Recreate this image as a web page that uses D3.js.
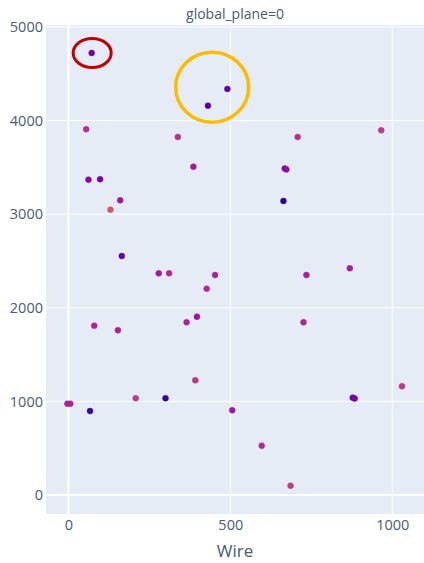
<!DOCTYPE html>
<html>
<head>
<meta charset="utf-8">
<script src="https://cdn.jsdelivr.net/npm/d3@7"></script>
<style>
  body { margin: 0; background: #fff; }
  text { font-family: "Open Sans", verdana, arial, sans-serif; }
</style>
</head>
<body>
<div id="chart"></div>
<script>
// hits: wire, time and a colour value (plasma scale)
const wire = [72, 431, 491, 55, 338, 386, 62, 98, 708, 966, 668, 673, 664, 160, 130, 165,
  279, 311, 427, 80, 153, 365, 397, 453, 735, 869, 726, 392, -3, 6, 67, 208, 300, 506,
  597, 686, 878, 884, 1030];
const time = [4722, 4159, 4338, 3907, 3825, 3507, 3369, 3373, 3825, 3896, 3488, 3478, 3141,
  3148, 3048, 2553, 2368, 2368, 2204, 1809, 1760, 1845, 1905, 2350, 2350, 2422, 1845, 1225,
  975, 975, 897, 1033, 1033, 905, 527, 99, 1040, 1030, 1161];
const charge = [0.22, 0.15, 0.18, 0.42, 0.42, 0.35, 0.27, 0.24, 0.42, 0.45, 0.28, 0.3, 0.05,
  0.35, 0.55, 0.2, 0.35, 0.4, 0.4, 0.38, 0.38, 0.38, 0.33, 0.38, 0.36, 0.36, 0.38, 0.44,
  0.38, 0.38, 0.08, 0.45, 0.08, 0.34, 0.4, 0.45, 0.2, 0.24, 0.45];
const xTicks = [0, 500, 1000];
const yTicks = [0, 1000, 2000, 3000, 4000, 5000];
const title = 'global_plane=0';
const xLabel = 'Wire';
// highlighted regions (data coords)
const redMark = {x: 72, y: 4722};
const orangeMark = {x: 444, y: 4356};

const width = 424, height = 563;
const margins = {top: 25, right: 0, bottom: 49, left: 46};
const chartWidth = width - margins.left - margins.right;
const chartHeight = height - margins.top - margins.bottom;

const svg = d3.select('#chart').append('svg')
  .attr('width', width)
  .attr('height', height);

const xScale = d3.scaleLinear().domain([-69, 1098]).range([0, chartWidth]);
const yScale = d3.scaleLinear().domain([-203, 5021]).range([chartHeight, 0]);

const chart = svg.append('g')
  .attr('transform', `translate(${margins.left}, ${margins.top})`);

chart.append('rect')
  .attr('width', chartWidth)
  .attr('height', chartHeight)
  .attr('fill', '#e5ecf6');

// grid
chart.selectAll('.xgrid')
  .data(xTicks)
  .enter().append('line')
  .attr('x1', d => xScale(d)).attr('x2', d => xScale(d))
  .attr('y1', 0).attr('y2', chartHeight)
  .attr('stroke', '#fff')
  .attr('stroke-width', d => d === 0 ? 2 : 1);

chart.selectAll('.ygrid')
  .data(yTicks)
  .enter().append('line')
  .attr('y1', d => yScale(d)).attr('y2', d => yScale(d))
  .attr('x1', 0).attr('x2', chartWidth)
  .attr('stroke', '#fff')
  .attr('stroke-width', d => d === 0 ? 2 : 1);

// axes (labels only, like plotly)
const xAxis = chart.append('g')
  .attr('transform', `translate(0, ${chartHeight})`)
  .call(d3.axisBottom(xScale).tickValues(xTicks).tickSize(0).tickPadding(6).tickFormat(d3.format('d')));
const yAxis = chart.append('g')
  .call(d3.axisLeft(yScale).tickValues(yTicks).tickSize(0).tickPadding(3).tickFormat(d3.format('d')));
[xAxis, yAxis].forEach(a => {
  a.select('.domain').remove();
  a.selectAll('text')
    .attr('fill', '#4a5a72')
    .style('font-size', '14.5px')
    .style('font-family', '"Open Sans", verdana, arial, sans-serif');
});

// points
const points = wire.map((w, i) => ({x: w, y: time[i], c: charge[i]}));
chart.selectAll('.dot')
  .data(points)
  .enter().append('circle')
  .attr('class', 'dot')
  .attr('cx', d => xScale(d.x))
  .attr('cy', d => yScale(d.y))
  .attr('r', 3)
  .attr('fill', d => d3.interpolatePlasma(d.c))
  .attr('stroke', d => d3.interpolatePlasma(d.c))
  .attr('stroke-opacity', 0.5)
  .attr('stroke-width', 0.8);

// annotation rings
chart.append('ellipse')
  .attr('cx', xScale(redMark.x) + 0.5)
  .attr('cy', yScale(redMark.y))
  .attr('rx', 19).attr('ry', 14.5)
  .attr('fill', 'none')
  .attr('stroke', '#c00000')
  .attr('stroke-width', 3);
chart.append('ellipse')
  .attr('cx', xScale(orangeMark.x))
  .attr('cy', yScale(orangeMark.y))
  .attr('rx', 36.5).attr('ry', 35)
  .attr('fill', 'none')
  .attr('stroke', '#fbbc00')
  .attr('stroke-width', 3.5);

// title and axis label
svg.append('text')
  .attr('x', margins.left + chartWidth / 2)
  .attr('y', 19)
  .attr('text-anchor', 'middle')
  .attr('fill', '#4a5a72')
  .style('font-size', '14px')
  .text(title);
svg.append('text')
  .attr('x', margins.left + chartWidth / 2)
  .attr('y', 557)
  .attr('text-anchor', 'middle')
  .attr('fill', '#4a5a72')
  .style('font-size', '17px')
  .text(xLabel);
</script>
</body>
</html>
